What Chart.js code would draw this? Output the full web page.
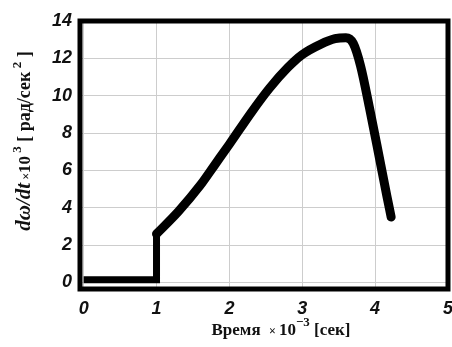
<!DOCTYPE html>
<html>
<head>
<meta charset="utf-8">
<script src="https://cdn.jsdelivr.net/npm/chart.js@4/dist/chart.umd.min.js"></script>
<style>
  html, body { margin: 0; padding: 0; background: #fff; overflow: hidden; }
  #wrap { width: 462px; height: 347px; }
</style>
</head>
<body>
<div id="wrap"><canvas id="myChart" width="462" height="347"></canvas></div>
<script>
// tick labels
var xTicks = [0, 1, 2, 3, 4, 5];
var yTicks = [0, 2, 4, 6, 8, 10, 12, 14];

// flat part and the jump at t = 1
var baseTime = [0, 1.0, 1.0];
var baseRate = [0.15, 0.15, 2.6];

// main curve
var curveTime = [1.0, 1.3, 1.6, 1.8, 2.0, 2.3, 2.55, 2.8, 3.0, 3.25, 3.45, 3.6, 3.7, 3.8, 3.92, 4.05, 4.16, 4.22];
var curveRate = [2.6, 3.8, 5.2, 6.3, 7.4, 9.1, 10.4, 11.5, 12.2, 12.75, 13.05, 13.1, 12.8, 11.6, 9.4, 6.85, 4.65, 3.5];

function toPoints(xs, ys) {
  return xs.map(function (x, i) { return { x: x, y: ys[i] }; });
}

// draws a row of text pieces (different fonts / raised superscripts), centred at cx, cy
function drawRuns(ctx, runs, cx, cy, angle) {
  ctx.save();
  ctx.translate(cx, cy);
  ctx.rotate(angle);
  ctx.fillStyle = '#111';
  ctx.textBaseline = 'alphabetic';
  ctx.textAlign = 'left';
  var total = 0;
  runs.forEach(function (r) { ctx.font = r.font; r.w = ctx.measureText(r.text).width; total += r.w; });
  var x = -total / 2;
  runs.forEach(function (r) {
    ctx.font = r.font;
    ctx.fillText(r.text, x, 6 + (r.dy || 0));
    x += r.w;
  });
  ctx.restore();
}

var serif = '"Liberation Serif", "DejaVu Serif", serif';

var frameAndTitles = {
  id: 'frameAndTitles',
  afterDatasetsDraw: function (chart) {
    var ctx = chart.ctx;
    var a = chart.chartArea;
    ctx.save();
    ctx.strokeStyle = '#000';
    ctx.lineWidth = 5;
    ctx.strokeRect(a.left, a.top, a.right - a.left, a.bottom - a.top);
    ctx.restore();

    // y axis title
    drawRuns(ctx, [
      { text: 'dω/dt', font: 'bold italic 21px ' + serif },
      { text: ' ×', font: 'bold 12px ' + serif },
      { text: '10', font: 'bold 17px ' + serif },
      { text: ' 3', font: 'bold 13px ' + serif, dy: -9 },
      { text: ' [ рад/сек', font: 'bold 18px ' + serif },
      { text: ' 2', font: 'bold 13px ' + serif, dy: -9 },
      { text: ' ]', font: 'bold 18px ' + serif }
    ], 24, 141, -Math.PI / 2);

    // x axis title
    drawRuns(ctx, [
      { text: 'Время  ', font: 'bold 17px ' + serif },
      { text: '× ', font: 'bold 12px ' + serif },
      { text: '10', font: 'bold 17px ' + serif },
      { text: '−3', font: 'bold 13px ' + serif, dy: -9 },
      { text: ' [сек]', font: 'bold 17px ' + serif }
    ], 281, 329, 0);
  }
};

var tickFont = { family: '"Liberation Sans", Arial, sans-serif', size: 18, style: 'italic', weight: 'bold' };

var chart = new Chart(document.getElementById('myChart').getContext('2d'), {
  type: 'line',
  data: {
    datasets: [{
      data: toPoints(baseTime, baseRate),
      borderColor: '#000',
      borderWidth: 7,
      tension: 0,
      pointRadius: 0,
      borderCapStyle: 'butt'
    }, {
      data: toPoints(curveTime, curveRate),
      borderColor: '#000',
      borderWidth: 9,
      cubicInterpolationMode: 'monotone',
      pointRadius: 0,
      borderCapStyle: 'round',
      borderJoinStyle: 'round'
    }]
  },
  options: {
    responsive: false,
    animation: false,
    devicePixelRatio: 1,
    layout: { padding: { top: 21, right: 13, left: 0, bottom: 0 } },
    plugins: { legend: { display: false }, tooltip: { enabled: false } },
    scales: {
      x: {
        type: 'linear',
        min: -0.05,
        max: 5,
        afterBuildTicks: function (s) { s.ticks = xTicks.map(function (v) { return { value: v }; }); },
        afterFit: function (s) { s.height = 58; },
        grid: { color: '#cdcdcd', lineWidth: 1, drawTicks: false },
        border: { display: false },
        ticks: { font: tickFont, color: '#111', padding: 9, maxRotation: 0 }
      },
      y: {
        min: -0.35,
        max: 14,
        afterBuildTicks: function (s) { s.ticks = yTicks.map(function (v) { return { value: v }; }); },
        afterFit: function (s) { s.width = 80; },
        grid: { color: '#cdcdcd', lineWidth: 1, drawTicks: false },
        border: { display: false },
        ticks: { font: tickFont, color: '#111', padding: 8 }
      }
    }
  },
  plugins: [frameAndTitles]
});
</script>
</body>
</html>
